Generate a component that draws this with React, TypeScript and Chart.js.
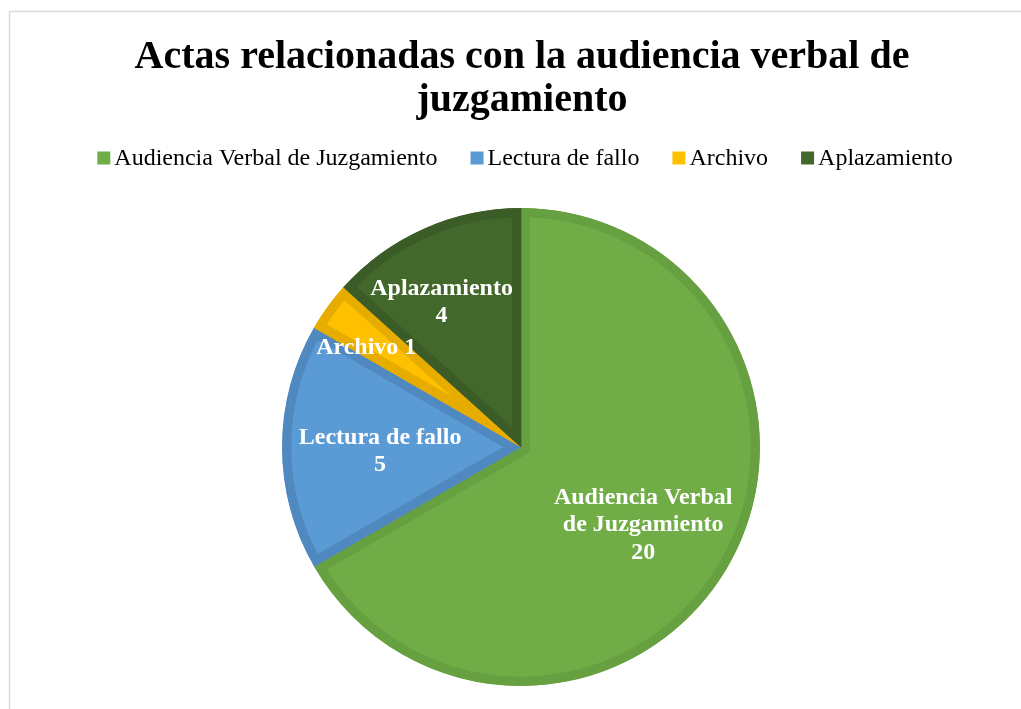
import React, { useEffect, useRef } from "react";
import { Chart, registerables } from "chart.js";

Chart.register(...registerables);

const titleLines = ["Actas relacionadas con la audiencia verbal de", "juzgamiento"];
const categories = ["Audiencia Verbal de Juzgamiento", "Lectura de fallo", "Archivo", "Aplazamiento"];
const values = [20, 5, 1, 4];
const fillColors = ["#70ad47", "#5b9bd5", "#ffc000", "#43682b"];
const borderColors = ["#66a040", "#5089c0", "#e6ad00", "#3b5c26"];
// data-label text lines per slice
const labelLines = [
  ["Audiencia Verbal", "de Juzgamiento", "20"],
  ["Lectura de fallo", "5"],
  ["Archivo 1"],
  ["Aplazamiento", "4"],
];
// where labels sit within each slice: [fraction of angle span, fraction of radius]
const labelPlacement = [
  [0.511, 0.607],
  [0.47, 0.59],
  [0.23, 0.77],
  [0.4, 0.69],
];

const SERIF = "'Liberation Serif', 'Times New Roman', serif";

const decorPlugin = {
  id: "decor",
  beforeDraw(chart: any) {
    const ctx = chart.ctx;
    ctx.save();
    ctx.strokeStyle = "#d9d9d9";
    ctx.lineWidth = 1.5;
    ctx.strokeRect(9.5, 11.5, 1035, 730);
    ctx.restore();
  },
  afterDraw(chart: any) {
    const ctx = chart.ctx;
    ctx.save();
    // title
    ctx.fillStyle = "#000";
    ctx.textAlign = "center";
    ctx.textBaseline = "middle";
    ctx.font = `bold 40px ${SERIF}`;
    titleLines.forEach((t, i) => ctx.fillText(t, 522, 58 + i * 43));

    // legend
    ctx.font = `24px ${SERIF}`;
    const box = 13, gap = 4, itemGap = 33;
    const widths = categories.map((c) => box + gap + ctx.measureText(c).width);
    const total = widths.reduce((a, b) => a + b, 0) + itemGap * (categories.length - 1);
    let x = 525 - total / 2;
    const ly = 158;
    ctx.textAlign = "left";
    categories.forEach((c, i) => {
      ctx.fillStyle = fillColors[i];
      ctx.fillRect(x, ly - box / 2, box, box);
      ctx.fillStyle = "#000";
      ctx.fillText(c, x + box + gap, ly + 1);
      x += widths[i] + itemGap;
    });

    // data labels
    const meta = chart.getDatasetMeta(0);
    ctx.font = `bold 24px ${SERIF}`;
    ctx.fillStyle = "#fff";
    ctx.textAlign = "center";
    meta.data.forEach((arc: any, i: number) => {
      const p = arc.getProps(["x", "y", "startAngle", "endAngle", "outerRadius"], true);
      const [fa, fr] = labelPlacement[i];
      const ang = p.startAngle + (p.endAngle - p.startAngle) * fa;
      const r = p.outerRadius * fr;
      const cx = p.x + Math.cos(ang) * r;
      const cy = p.y + Math.sin(ang) * r;
      const lines = labelLines[i];
      const lh = 27.5;
      lines.forEach((l, j) => {
        ctx.fillText(l, cx, cy + (j - (lines.length - 1) / 2) * lh);
      });
    });
    ctx.restore();
  },
};

export default function App() {
  const ref = useRef<HTMLCanvasElement>(null);
  useEffect(() => {
    document.body.style.margin = "0";
    const chart = new Chart(ref.current!, {
      type: "pie",
      data: {
        labels: categories,
        datasets: [
          {
            data: values,
            backgroundColor: fillColors,
            borderColor: borderColors,
            borderWidth: 9,
            borderAlign: "inner",
          } as any,
        ],
      },
      options: {
        responsive: false,
        animation: false,
        radius: 239,
        layout: { padding: { left: 282, right: 261, top: 208, bottom: 23 } },
        plugins: {
          legend: { display: false },
          title: { display: false },
          tooltip: { enabled: false },
        },
      } as any,
      plugins: [decorPlugin],
    });
    return () => chart.destroy();
  }, []);
  return (
    <div style={{ position: "absolute", left: 0, top: 0, width: 1021, height: 709, background: "#fff" }}>
      <canvas ref={ref} width={1021} height={709} style={{ width: 1021, height: 709 }} />
    </div>
  );
}
